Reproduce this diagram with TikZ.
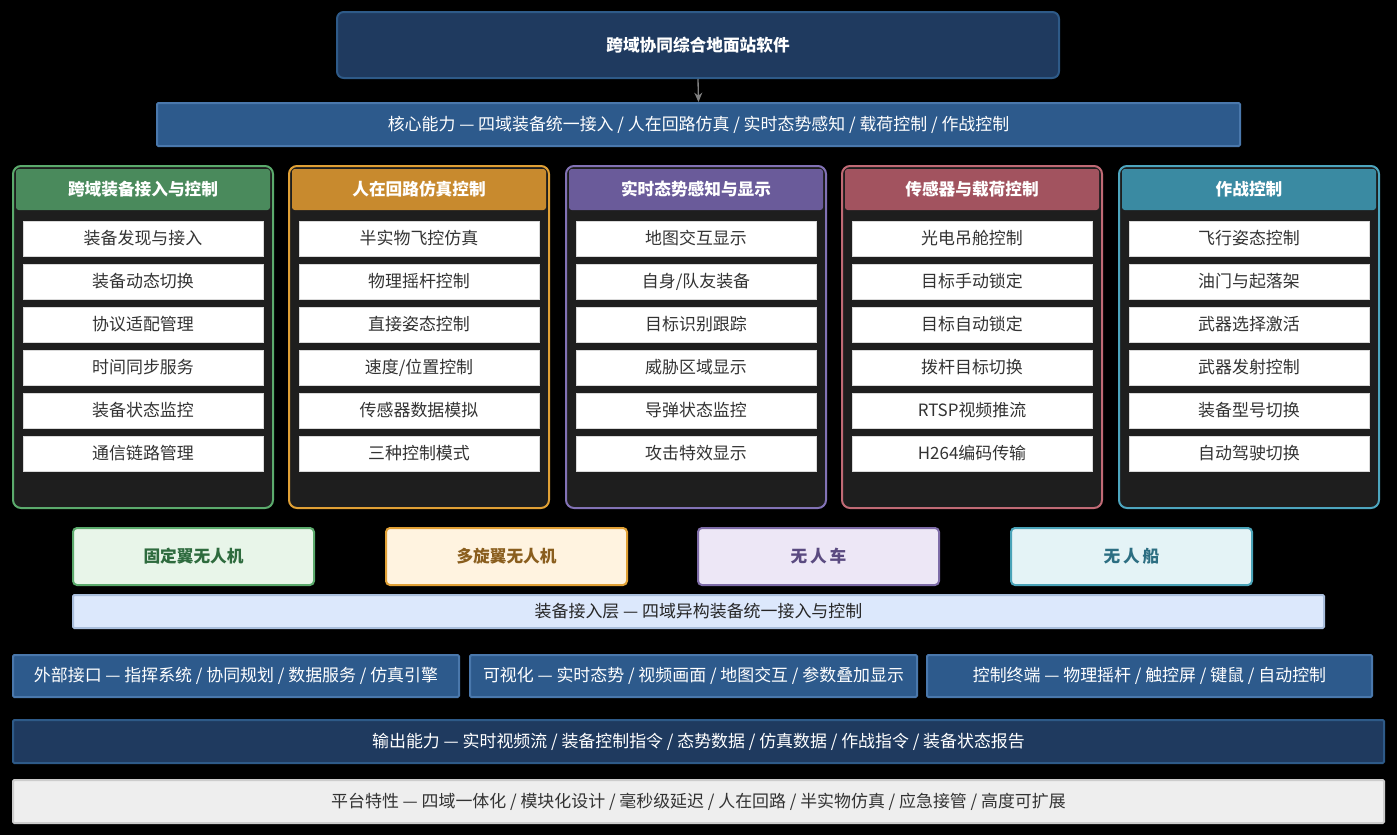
\documentclass[tikz,border=0pt]{standalone}
\usepackage{fontspec}
\setmainfont{Noto Sans CJK SC}
\usetikzlibrary{arrows.meta}

\definecolor{navy}{HTML}{1F3A5F}
\definecolor{navyline}{HTML}{2E5A88}
\definecolor{midblue}{HTML}{2D5A8C}
\definecolor{midline}{HTML}{4A78AC}
\definecolor{panelbg}{HTML}{1E1E1E}
\definecolor{cgreen}{HTML}{4A8A5C}
\definecolor{lgreen}{HTML}{5BAA6C}
\definecolor{corange}{HTML}{C88A2E}
\definecolor{lorange}{HTML}{E0A035}
\definecolor{cpurple}{HTML}{6A5B9A}
\definecolor{lpurple}{HTML}{8272B5}
\definecolor{cred}{HTML}{A2535F}
\definecolor{lred}{HTML}{C06A75}
\definecolor{cteal}{HTML}{3A8AA2}
\definecolor{lteal}{HTML}{4DA5BE}
% equipment colours
\definecolor{fgreen}{HTML}{E8F5E9}
\definecolor{tgreen}{HTML}{2E6B3E}
\definecolor{forange}{HTML}{FFF3E0}
\definecolor{torange}{HTML}{8A5E1E}
\definecolor{fpurple}{HTML}{EDE7F6}
\definecolor{bpurple}{HTML}{7E6CA8}
\definecolor{tpurple}{HTML}{5A4A80}
\definecolor{fteal}{HTML}{E4F3F6}
\definecolor{bteal}{HTML}{4AA3B8}
\definecolor{tteal}{HTML}{2C6E82}
\definecolor{faccess}{HTML}{DCE8FC}
\definecolor{baccess}{HTML}{A9BEDC}
\definecolor{fplat}{HTML}{EEEEEE}
\definecolor{bplat}{HTML}{CCCCCC}
\definecolor{tplat}{HTML}{333333}

\tikzset{
  wh/.style 2 args={minimum width=#1*0.75pt, minimum height=#2*0.75pt},
  box/.style={draw, line width=1.5pt, rounded corners=3pt, inner sep=0pt, align=center, font=\fontsize{12.7}{14}\selectfont},
  bar/.style={box, fill=midblue, draw=midline, text=white, rounded corners=1pt},
  panelbox/.style={draw, line width=1.5pt, rounded corners=6pt, fill=panelbg, inner sep=0pt},
  headbox/.style={inner sep=0pt, rounded corners=2pt, text=white, font=\fontsize{12.5}{14}\selectfont\bfseries},
  itembox/.style={fill=white, draw=black!15, line width=0.5pt, inner sep=0pt, text=black!80, font=\fontsize{12.7}{14}\selectfont},
  vehicle/.style={box, font=\fontsize{12.5}{14}\selectfont\bfseries},
}

\begin{document}
\begin{tikzpicture}[x=0.75pt,y=0.75pt,yscale=-1,xscale=1]
\useasboundingbox[fill=black] (0,0) rectangle (1397,835);

% top
\node[box, wh={722}{66}, fill=navy, draw=navyline, rounded corners=5pt, text=white, font=\fontsize{12.5}{14}\selectfont\bfseries] (title) at (698,45) {跨域协同综合地面站软件};
\node[bar, wh={1083}{43}] (core) at (698.5,124.5) {核心能力 — 四域装备统一接入 / 人在回路仿真 / 实时态势感知 / 载荷控制 / 作战控制};
\draw[-{Stealth[length=7pt,width=6pt]}, line width=1pt, gray] (title.south) -- (core.north);

% modules
\foreach \px/\hc/\lc/\hd/\items [count=\i] in {
  13/cgreen/lgreen/跨域装备接入与控制/{装备发现与接入,装备动态切换,协议适配管理,时间同步服务,装备状态监控,通信链路管理},
  289/corange/lorange/人在回路仿真控制/{半实物飞控仿真,物理摇杆控制,直接姿态控制,速度/位置控制,传感器数据模拟,三种控制模式},
  566/cpurple/lpurple/实时态势感知与显示/{地图交互显示,自身/队友装备,目标识别跟踪,威胁区域显示,导弹状态监控,攻击特效显示},
  842/cred/lred/传感器与载荷控制/{光电吊舱控制,目标手动锁定,目标自动锁定,拨杆目标切换,RTSP视频推流,H264编码传输},
  1119/cteal/lteal/作战控制/{飞行姿态控制,油门与起落架,武器选择激活,武器发射控制,装备型号切换,自动驾驶切换}}
{
  \node[panelbox, draw=\lc, wh={260}{342}] (panel\i) at (\px+130,337) {};
  \node[headbox, fill=\hc, wh={254}{41}] (head\i) at (\px+130,189.5) {\hd};
  \foreach \t [count=\k] in \items
    \node[itembox, wh={240}{35}] (item\i-\k) at (\px+130,195.5+43*\k) {\t};
}

% equipment
\node[vehicle, wh={241}{57}, fill=fgreen, draw=lgreen, text=tgreen] (fixwing) at (193.5,556.5) {固定翼无人机};
\node[vehicle, wh={241}{57}, fill=forange, draw=lorange, text=torange] (multirotor) at (506.5,556.5) {多旋翼无人机};
\node[vehicle, wh={241}{57}, fill=fpurple, draw=bpurple, text=tpurple] (ugv) at (818.5,556.5) {无\,人\,车};
\node[vehicle, wh={241}{57}, fill=fteal, draw=bteal, text=tteal] (usv) at (1131.5,556.5) {无\,人\,船};
\node[box, wh={1251}{33}, fill=faccess, draw=baccess, text=black!85, rounded corners=1pt] (access) at (698.5,611.5) {装备接入层 — 四域异构装备统一接入与控制};

% interfaces
\node[bar, wh={446}{42}] (extif) at (236,676) {外部接口 — 指挥系统 / 协同规划 / 数据服务 / 仿真引擎};
\node[bar, wh={447}{42}] (vis) at (693.5,676) {可视化 — 实时态势 / 视频画面 / 地图交互 / 参数叠加显示};
\node[bar, wh={445}{42}] (term) at (1149.5,676) {控制终端 — 物理摇杆 / 触控屏 / 键鼠 / 自动控制};

% output + platform
\node[bar, wh={1371}{43}, fill=navy, draw=navyline] (output) at (698.5,741.5) {输出能力 — 实时视频流 / 装备控制指令 / 态势数据 / 仿真数据 / 作战指令 / 装备状态报告};
\node[box, wh={1371}{43}, fill=fplat, draw=bplat, text=tplat, rounded corners=1pt] (platform) at (698.5,801.5) {平台特性 — 四域一体化 / 模块化设计 / 毫秒级延迟 / 人在回路 / 半实物仿真 / 应急接管 / 高度可扩展};

\end{tikzpicture}
\end{document}
